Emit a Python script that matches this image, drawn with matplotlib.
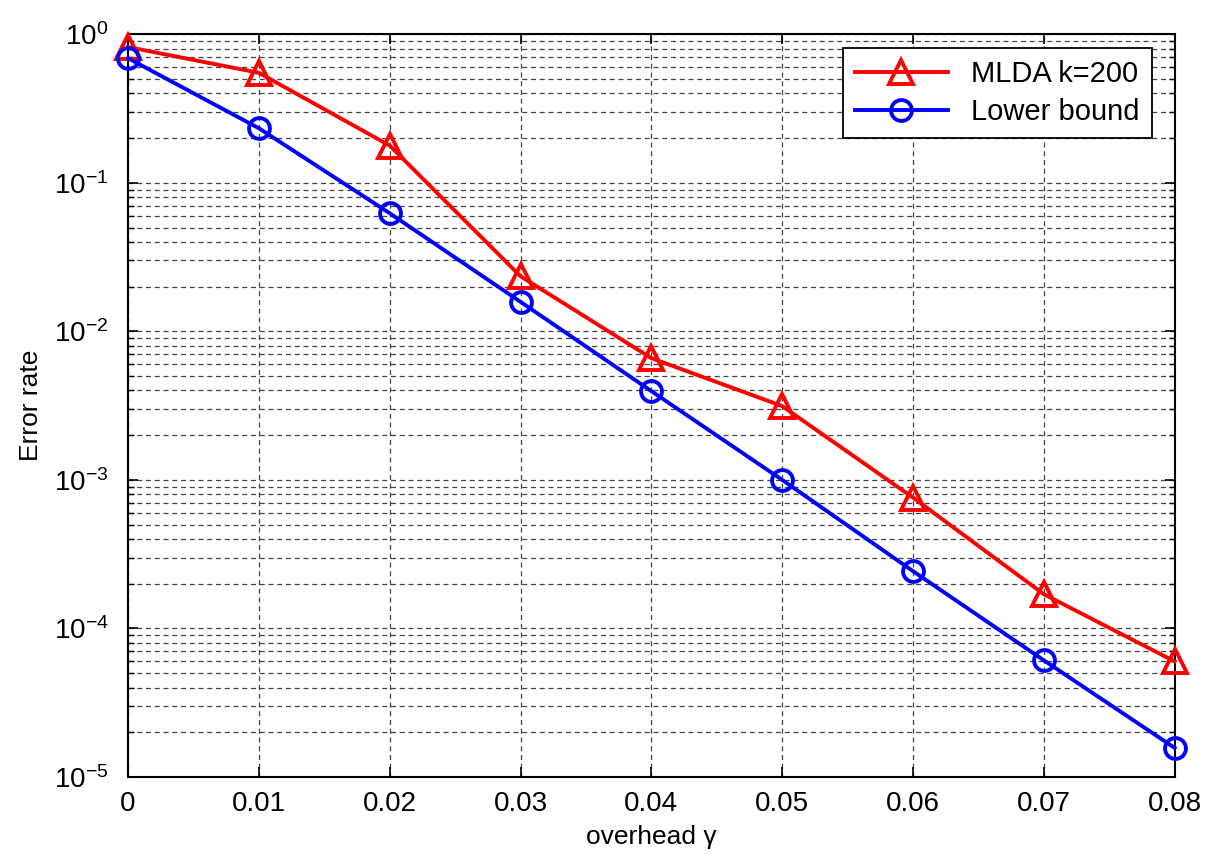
import numpy as np
import matplotlib
matplotlib.use("Agg")
import matplotlib.pyplot as plt
from matplotlib.ticker import LogLocator, NullFormatter

plt.rcParams['font.family'] = ['Liberation Sans', 'DejaVu Sans']
plt.rcParams['mathtext.fontset'] = 'custom'
plt.rcParams['mathtext.rm'] = 'Liberation Sans'
plt.rcParams['mathtext.it'] = 'Liberation Sans:italic'

overhead = [0.0, 0.01, 0.02, 0.03, 0.04, 0.05, 0.06, 0.07, 0.08]
mlda_k200 = [0.82, 0.55, 0.178, 0.0235, 0.0066, 0.00314, 7.6e-4, 1.7e-4, 6.0e-5]
lower_bound = [0.69, 0.233, 0.0624, 0.0158, 0.00396, 1.0e-3, 2.43e-4, 6.1e-5, 1.57e-5]
xtick_labels = ['0', '0.01', '0.02', '0.03', '0.04', '0.05', '0.06', '0.07', '0.08']

fig = plt.figure(figsize=(12.11, 8.56), dpi=100)
ax = fig.add_axes([0.1057, 0.0923, 0.8643, 0.8677])

ax.semilogy(overhead, mlda_k200, color='red', lw=2.8, marker='^', ms=17,
            mfc='none', mec='red', mew=2.8, label='MLDA k=200', clip_on=False, zorder=3)
ax.semilogy(overhead, lower_bound, color='blue', lw=2.8, marker='o', ms=15,
            mfc='none', mec='blue', mew=2.8, label='Lower bound', clip_on=False, zorder=3)

ax.set_xlim(0, 0.08)
ax.set_ylim(1e-5, 1)
ax.set_xticks(overhead)
ax.set_xticklabels(xtick_labels)
ax.yaxis.set_major_locator(LogLocator(base=10, numticks=10))
ax.yaxis.set_minor_locator(LogLocator(base=10, subs=np.arange(2, 10), numticks=20))
ax.yaxis.set_minor_formatter(NullFormatter())

ax.grid(True, which='major', axis='both', linestyle=(0, (4, 3)), color='#444444', lw=0.9)
ax.grid(True, which='minor', axis='y', linestyle=(0, (4, 3)), color='#444444', lw=0.9)

ax.tick_params(which='both', direction='in', top=True, right=True, labelsize=20)
ax.tick_params(axis='x', pad=10)
ax.tick_params(axis='y', pad=14)
ax.tick_params(which='major', length=7, width=1.2)
ax.tick_params(which='minor', length=4, width=1.0)
for s in ax.spines.values():
    s.set_linewidth(1.5)

ax.set_xlabel('overhead \u03b3', fontsize=19, labelpad=6)
ax.set_ylabel('Error rate', fontsize=19, labelpad=8)

leg = ax.legend(loc='upper right', fontsize=21, frameon=True, fancybox=False,
                edgecolor='black', framealpha=1, borderpad=0.4, handlelength=3.2,
                labelspacing=0.35, borderaxespad=0, bbox_to_anchor=(0.978, 0.981))
leg.get_frame().set_linewidth(1.3)

fig.savefig('out.png', dpi=100)
